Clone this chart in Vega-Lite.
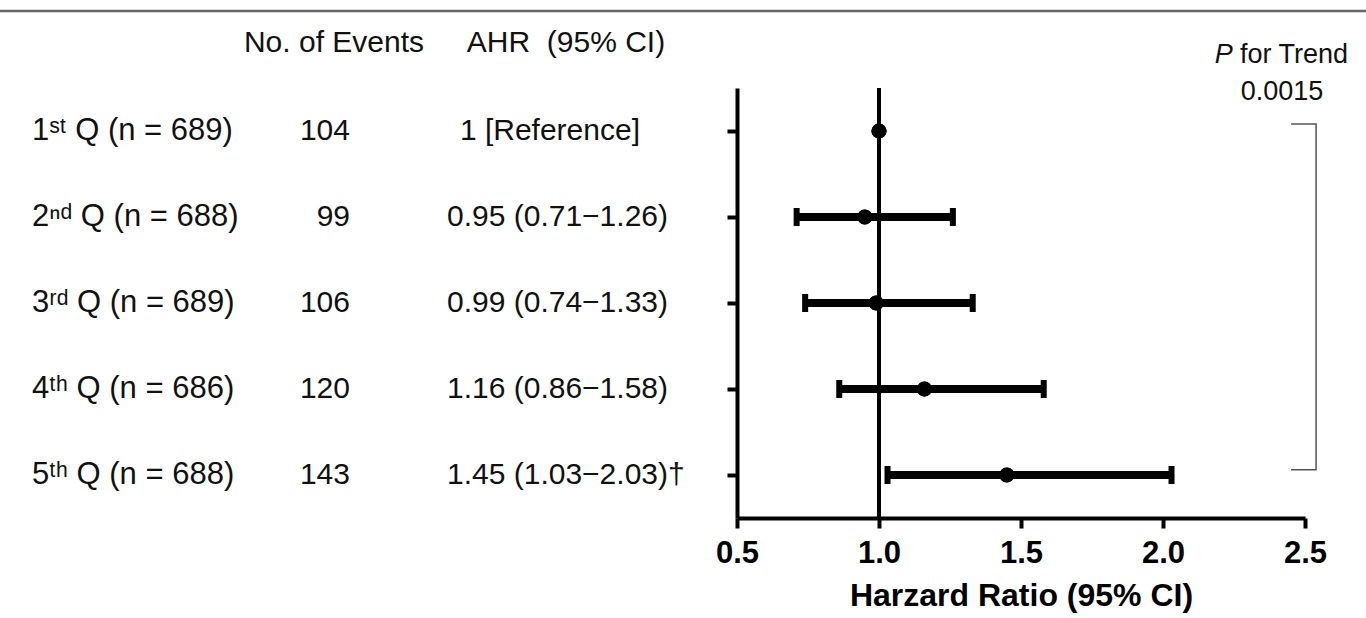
{
  "$schema": "https://vega.github.io/schema/vega-lite/v6.json",
  "width": 1366,
  "height": 518,
  "autosize": {"type": "none"},
  "padding": {"left": 0, "top": 0, "right": 0, "bottom": 100},
  "background": "white",
  "config": {
    "view": {"stroke": null},
    "font": "Liberation Sans",
    "text": {"font": "Liberation Sans", "fontSize": 30, "color": "#111111", "baseline": "middle"}
  },
  "datasets": {
    "quintiles": [
      {"row": 1, "group": "1ˢᵗ Q (n = 689)", "events": 104, "ahr": "1 [Reference]", "note": "", "hr": 1.0, "lo": null, "hi": null},
      {"row": 2, "group": "2ⁿᵈ Q (n = 688)", "events": 99, "ahr": "0.95 (0.71−1.26)", "note": "", "hr": 0.95, "lo": 0.71, "hi": 1.26},
      {"row": 3, "group": "3ʳᵈ Q (n = 689)", "events": 106, "ahr": "0.99 (0.74−1.33)", "note": "", "hr": 0.99, "lo": 0.74, "hi": 1.33},
      {"row": 4, "group": "4ᵗʰ Q (n = 686)", "events": 120, "ahr": "1.16 (0.86−1.58)", "note": "", "hr": 1.16, "lo": 0.86, "hi": 1.58},
      {"row": 5, "group": "5ᵗʰ Q (n = 688)", "events": 143, "ahr": "1.45 (1.03−2.03)", "note": "†", "hr": 1.45, "lo": 1.03, "hi": 2.03}
    ],
    "bracket": [
      {"ord": 1, "x": 2.451, "row": 0.92},
      {"ord": 2, "x": 2.539, "row": 0.92},
      {"ord": 3, "x": 2.539, "row": 4.94},
      {"ord": 4, "x": 2.451, "row": 4.94}
    ]
  },
  "encoding": {
    "y": {
      "field": "row",
      "type": "quantitative",
      "scale": {"domain": [0.5, 5.5], "range": [88, 518], "nice": false, "zero": false},
      "axis": {
        "orient": "left",
        "offset": -737,
        "values": [1, 2, 3, 4, 5],
        "labels": false,
        "title": null,
        "grid": false,
        "domain": true,
        "domainColor": "black",
        "domainWidth": 4,
        "ticks": true,
        "tickColor": "black",
        "tickWidth": 4,
        "tickSize": 10
      }
    }
  },
  "resolve": {"scale": {"x": "independent"}, "axis": {"x": "independent"}},
  "layer": [
    {
      "data": {"name": "quintiles"},
      "mark": {"type": "circle", "size": 230, "color": "black", "opacity": 1},
      "encoding": {
        "x": {
          "field": "hr",
          "type": "quantitative",
          "scale": {"domain": [0.5, 2.5], "range": [737, 1305], "nice": false, "zero": false},
          "axis": {
            "orient": "bottom",
            "values": [0.5, 1, 1.5, 2, 2.5],
            "format": ".1f",
            "grid": false,
            "domain": true,
            "domainColor": "black",
            "domainWidth": 4,
            "ticks": true,
            "tickColor": "black",
            "tickWidth": 4,
            "tickSize": 10,
            "labelFont": "Liberation Sans",
            "labelFontSize": 31,
            "labelFontWeight": "bold",
            "labelColor": "black",
            "labelPadding": 10,
            "labelFlush": false,
            "labelOverlap": false,
            "title": "Harzard Ratio (95% CI)",
            "titleFont": "Liberation Sans",
            "titleFontSize": 32,
            "titleFontWeight": "bold",
            "titleColor": "black",
            "titlePadding": 12
          }
        }
      }
    },
    {
      "data": {"values": [{"row": -0.395}]},
      "mark": {"type": "rule", "color": "#666666", "strokeWidth": 2.5},
      "encoding": {}
    },
    {
      "data": {"name": "quintiles"},
      "mark": {"type": "text", "align": "left", "fontSize": 31},
      "encoding": {
        "x": {"datum": "group", "type": "nominal", "scale": {"type": "point", "domain": ["group", "events", "ahr"], "range": [32, 668], "padding": 0}, "axis": null},
        "text": {"field": "group"}
      }
    },
    {
      "data": {"name": "quintiles"},
      "mark": {"type": "text", "align": "right"},
      "encoding": {
        "x": {"datum": "events", "type": "nominal", "scale": {"type": "point", "domain": ["group", "events", "ahr"], "range": [32, 668], "padding": 0}, "axis": null},
        "text": {"field": "events"}
      }
    },
    {
      "data": {"name": "quintiles"},
      "transform": [{"filter": "datum.row > 1"}],
      "mark": {"type": "text", "align": "right"},
      "encoding": {
        "x": {"datum": "ahr", "type": "nominal", "scale": {"type": "point", "domain": ["group", "events", "ahr"], "range": [32, 668], "padding": 0}, "axis": null},
        "text": {"field": "ahr"}
      }
    },
    {
      "data": {"name": "quintiles"},
      "transform": [{"filter": "datum.note != ''"}],
      "mark": {"type": "text", "align": "left"},
      "encoding": {
        "x": {"datum": "ahr", "type": "nominal", "scale": {"type": "point", "domain": ["group", "events", "ahr"], "range": [32, 668], "padding": 0}, "axis": null},
        "text": {"field": "note"}
      }
    },
    {
      "data": {"name": "quintiles"},
      "transform": [{"filter": "datum.row == 1"}],
      "mark": {"type": "text", "align": "right", "dx": -28},
      "encoding": {
        "x": {"datum": "ahr", "type": "nominal", "scale": {"type": "point", "domain": ["group", "events", "ahr"], "range": [32, 668], "padding": 0}, "axis": null},
        "text": {"field": "ahr"}
      }
    },
    {
      "data": {"values": [{"row": -0.02, "label": "No. of Events"}]},
      "mark": {"type": "text", "align": "center", "dx": -16},
      "encoding": {
        "x": {"datum": "events", "type": "nominal", "scale": {"type": "point", "domain": ["group", "events", "ahr"], "range": [32, 668], "padding": 0}, "axis": null},
        "text": {"field": "label"}
      }
    },
    {
      "data": {"values": [{"row": -0.02, "label": "AHR\u00a0\u00a0(95% CI)"}]},
      "mark": {"type": "text", "align": "center", "dx": -102},
      "encoding": {
        "x": {"datum": "ahr", "type": "nominal", "scale": {"type": "point", "domain": ["group", "events", "ahr"], "range": [32, 668], "padding": 0}, "axis": null},
        "text": {"field": "label"}
      }
    },
    {
      "data": {"values": [{"hr": 1.0, "row": 0.5, "row_end": 5.5}]},
      "mark": {"type": "rule", "color": "black", "strokeWidth": 4},
      "encoding": {
        "x": {"field": "hr", "type": "quantitative", "scale": {"domain": [0.5, 2.5], "range": [737, 1305], "nice": false, "zero": false}, "axis": null},
        "y2": {"field": "row_end"}
      }
    },
    {
      "data": {"name": "quintiles"},
      "transform": [{"filter": "datum.lo != null"}],
      "mark": {"type": "rule", "color": "black", "strokeWidth": 8},
      "encoding": {
        "x": {"field": "lo", "type": "quantitative", "scale": {"domain": [0.5, 2.5], "range": [737, 1305], "nice": false, "zero": false}, "axis": null},
        "x2": {"field": "hi"}
      }
    },
    {
      "data": {"name": "quintiles"},
      "transform": [{"filter": "datum.lo != null"}],
      "mark": {"type": "tick", "orient": "vertical", "size": 18, "thickness": 6, "color": "black", "opacity": 1},
      "encoding": {
        "x": {"field": "lo", "type": "quantitative", "scale": {"domain": [0.5, 2.5], "range": [737, 1305], "nice": false, "zero": false}, "axis": null}
      }
    },
    {
      "data": {"name": "quintiles"},
      "transform": [{"filter": "datum.hi != null"}],
      "mark": {"type": "tick", "orient": "vertical", "size": 18, "thickness": 6, "color": "black", "opacity": 1},
      "encoding": {
        "x": {"field": "hi", "type": "quantitative", "scale": {"domain": [0.5, 2.5], "range": [737, 1305], "nice": false, "zero": false}, "axis": null}
      }
    },
    {
      "data": {"name": "quintiles"},
      "mark": {"type": "circle", "size": 230, "color": "black", "opacity": 1},
      "encoding": {
        "x": {"field": "hr", "type": "quantitative", "scale": {"domain": [0.5, 2.5], "range": [737, 1305], "nice": false, "zero": false}, "axis": null}
      }
    },
    {
      "data": {"name": "bracket"},
      "mark": {"type": "line", "color": "#555555", "strokeWidth": 1.5},
      "encoding": {
        "x": {"field": "x", "type": "quantitative", "scale": {"domain": [0.5, 2.5], "range": [737, 1305], "nice": false, "zero": false}, "axis": null},
        "order": {"field": "ord", "type": "quantitative"}
      }
    },
    {
      "data": {"values": [{"x": 2.246, "row": 0.116, "label": "P"}]},
      "mark": {"type": "text", "align": "right", "fontStyle": "italic", "fontSize": 27},
      "encoding": {
        "x": {"field": "x", "type": "quantitative", "scale": {"domain": [0.5, 2.5], "range": [737, 1305], "nice": false, "zero": false}, "axis": null},
        "text": {"field": "label"}
      }
    },
    {
      "data": {"values": [{"x": 2.271, "row": 0.116, "label": "for Trend"}]},
      "mark": {"type": "text", "align": "left", "fontSize": 27},
      "encoding": {
        "x": {"field": "x", "type": "quantitative", "scale": {"domain": [0.5, 2.5], "range": [737, 1305], "nice": false, "zero": false}, "axis": null},
        "text": {"field": "label"}
      }
    },
    {
      "data": {"values": [{"x": 2.419, "row": 0.547, "label": "0.0015"}]},
      "mark": {"type": "text", "align": "center", "fontSize": 27},
      "encoding": {
        "x": {"field": "x", "type": "quantitative", "scale": {"domain": [0.5, 2.5], "range": [737, 1305], "nice": false, "zero": false}, "axis": null},
        "text": {"field": "label"}
      }
    }
  ]
}
